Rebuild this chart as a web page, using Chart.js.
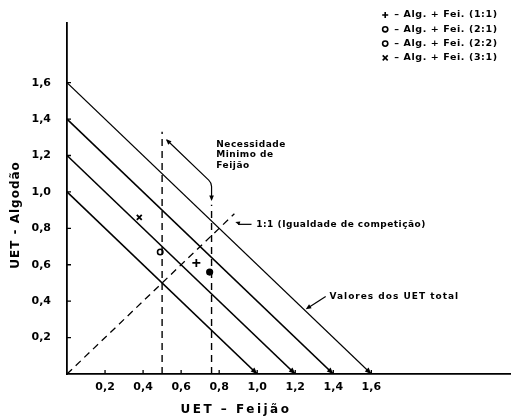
<!DOCTYPE html>
<html>
<head>
<meta charset="utf-8">
<script src="https://cdn.jsdelivr.net/npm/chart.js@4.4.1/dist/chart.umd.min.js"></script>
<style>
  html, body { margin: 0; padding: 0; background: #fff; }
  #wrap { width: 516px; height: 418px; }
</style>
</head>
<body>
<div id="wrap"><canvas id="chart"></canvas></div>
<script>
// UET total iso-lines (x + y = total)
const uetTotals = [1.0, 1.2, 1.4, 1.6];

// treatments (legend) and their observed UET values
const treatments = ['Alg. + Fei. (1:1)', 'Alg. + Fei. (2:1)', 'Alg. + Fei. (2:2)', 'Alg. + Fei. (3:1)'];
const symbols = ['cross', 'circleOpen', 'circleFilled', 'crossRot'];
const uetFeijao = [0.68, 0.49, 0.75, 0.38];
const uetAlgodao = [0.61, 0.67, 0.56, 0.86];

// dashed guides
const minFeijaoX = [0.5, 0.76];      // vertical guides
const minFeijaoTop = [1.33, 0.93];   // where each dashed guide stops
const equalLineEnd = 0.88;           // 1:1 line end

// tick labels
const xTicks = [0.2, 0.4, 0.6, 0.8, 1.0, 1.2, 1.4, 1.6];
const yTicks = [0.2, 0.4, 0.6, 0.8, 1.0, 1.2, 1.4, 1.6];
const fmt = v => v.toFixed(1).replace('.', ',');

const FONT = '"DejaVu Sans", "Liberation Sans", sans-serif';

const datasets = [];
uetTotals.forEach(c => datasets.push({
  data: [{x: 0, y: c}, {x: c, y: 0}], showLine: true, borderColor: '#000',
  borderWidth: c === 1.6 ? 1.2 : 1.6, pointRadius: 0, tension: 0
}));
minFeijaoX.forEach((v, i) => datasets.push({
  data: [{x: v, y: 0}, {x: v, y: minFeijaoTop[i]}], showLine: true, borderColor: '#000',
  borderWidth: 1.4, borderDash: [7, 5], pointRadius: 0
}));
datasets.push({
  data: [{x: 0, y: 0}, {x: equalLineEnd, y: equalLineEnd}], showLine: true, borderColor: '#000',
  borderWidth: 1.3, borderDash: [7, 5], pointRadius: 0
});
treatments.forEach((t, i) => {
  const s = symbols[i];
  datasets.push({
    label: t,
    data: [{x: uetFeijao[i], y: uetAlgodao[i]}],
    showLine: false,
    pointStyle: s === 'circleOpen' || s === 'circleFilled' ? 'circle' : s,
    pointRadius: s === 'cross' ? 4 : (s === 'crossRot' ? 3.5 : 2.7),
    pointBorderWidth: s === 'circleOpen' ? 1.6 : 1.8,
    pointBorderColor: '#000',
    pointBackgroundColor: s === 'circleOpen' ? '#fff' : '#000'
  });
});

function arrowHead(ctx, x1, y1, x2, y2, size) {
  const a = Math.atan2(y2 - y1, x2 - x1);
  ctx.beginPath();
  ctx.moveTo(x2, y2);
  ctx.lineTo(x2 - size * Math.cos(a - 0.4), y2 - size * Math.sin(a - 0.4));
  ctx.lineTo(x2 - size * Math.cos(a + 0.4), y2 - size * Math.sin(a + 0.4));
  ctx.closePath();
  ctx.fill();
}

const annot = {
  id: 'annot',
  afterDatasetsDraw(chart) {
    const {ctx, chartArea, scales: {x, y}} = chart;
    const px = v => x.getPixelForValue(v), py = v => y.getPixelForValue(v);
    ctx.save();
    ctx.strokeStyle = '#000'; ctx.fillStyle = '#000'; ctx.lineWidth = 1.3;

    // inner tick marks
    ctx.beginPath();
    xTicks.forEach(v => { ctx.moveTo(px(v), chartArea.bottom); ctx.lineTo(px(v), chartArea.bottom - 4); });
    yTicks.forEach(v => { ctx.moveTo(chartArea.left, py(v)); ctx.lineTo(chartArea.left + 4, py(v)); });
    ctx.stroke();

    // arrowheads where the UET lines meet the x axis
    uetTotals.forEach(c => arrowHead(ctx, px(c - 0.1), py(0.1), px(c), py(0), 7));

    // "Necessidade minima" bracket
    ctx.lineWidth = 1.2;
    ctx.beginPath();
    ctx.moveTo(px(0.525), py(1.285));
    ctx.lineTo(px(0.745), py(1.065));
    ctx.quadraticCurveTo(px(0.76), py(1.05), px(0.76), py(1.03));
    ctx.lineTo(px(0.76), py(0.96));
    ctx.stroke();
    arrowHead(ctx, px(0.6), py(1.21), px(0.52), py(1.29), 6);
    arrowHead(ctx, px(0.76), py(1.0), px(0.76), py(0.95), 6);

    // leaders
    ctx.beginPath();
    ctx.moveTo(px(0.97), py(0.822)); ctx.lineTo(px(0.9), py(0.822));
    ctx.stroke();
    arrowHead(ctx, px(0.92), py(0.824), px(0.885), py(0.835), 5);
    ctx.beginPath();
    ctx.moveTo(px(1.36), py(0.425)); ctx.lineTo(px(1.27), py(0.365));
    ctx.stroke();
    arrowHead(ctx, px(1.32), py(0.4), px(1.255), py(0.356), 6);

    // annotation texts
    ctx.font = 'bold 9px ' + FONT;
    ctx.textBaseline = 'middle'; ctx.textAlign = 'left';
    ctx.letterSpacing = '0.5px';
    ['Necessidade', 'Minimo de', 'Feijão'].forEach((t, i) => ctx.fillText(t, px(0.785), py(1.262 - i * 0.06)));
    ctx.fillText('1:1 (Igualdade de competição)', px(0.995), py(0.822));
    ctx.letterSpacing = '1px';
    ctx.fillText('Valores dos UET total', px(1.38), py(0.427));

    // legend (top right)
    const lx = chartArea.right - 125, ly = 15;
    ctx.font = 'bold 9.5px ' + FONT;
    treatments.forEach((t, i) => {
      const yy = ly + i * 14.3;
      const s = symbols[i];
      ctx.lineWidth = 1.6;
      if (s === 'cross') {
        ctx.beginPath(); ctx.moveTo(lx - 3, yy); ctx.lineTo(lx + 3, yy); ctx.moveTo(lx, yy - 3); ctx.lineTo(lx, yy + 3); ctx.stroke();
      } else if (s === 'crossRot') {
        ctx.beginPath(); ctx.moveTo(lx - 2.5, yy - 2.5); ctx.lineTo(lx + 2.5, yy + 2.5); ctx.moveTo(lx + 2.5, yy - 2.5); ctx.lineTo(lx - 2.5, yy + 2.5); ctx.stroke();
      } else {
        ctx.beginPath(); ctx.arc(lx, yy, 2.6, 0, Math.PI * 2); ctx.stroke();
      }
      ctx.letterSpacing = '0.6px';
      ctx.fillText('\u2013 ' + t, lx + 9, yy);
    });

    // axis titles
    ctx.font = 'bold 12px ' + FONT;
    ctx.textAlign = 'center';
    ctx.letterSpacing = '2.5px';
    ctx.fillText('UET \u2013 Feijão', 236, 410);
    ctx.save();
    ctx.translate(16, 215); ctx.rotate(-Math.PI / 2);
    ctx.letterSpacing = '1px';
    ctx.fillText('UET - Algodão', 0, 0);
    ctx.restore();
    ctx.restore();
  }
};

new Chart(document.getElementById('chart'), {
  type: 'scatter',
  data: {datasets},
  plugins: [annot],
  options: {
    responsive: true, maintainAspectRatio: false, animation: false,
    layout: {padding: {top: 20, right: 1, left: 0, bottom: 0}},
    plugins: {legend: {display: false}, tooltip: {enabled: false}},
    scales: {
      x: {
        type: 'linear', min: 0, max: 2.33,
        afterBuildTicks: a => { a.ticks = xTicks.map(v => ({value: v})); },
        afterFit: s => { s.height = 44; },
        grid: {display: true, drawOnChartArea: false, drawTicks: false},
        border: {display: true, color: '#000', width: 1.8},
        ticks: {color: '#000', padding: 7, maxRotation: 0, autoSkip: false,
          font: {family: FONT, size: 11, weight: 'bold'}, callback: v => fmt(v)}
      },
      y: {
        type: 'linear', min: 0, max: 1.93,
        afterBuildTicks: a => { a.ticks = yTicks.map(v => ({value: v})); },
        afterFit: s => { s.width = 67; },
        grid: {display: true, drawOnChartArea: false, drawTicks: false},
        border: {display: true, color: '#000', width: 1.8},
        ticks: {color: '#000', padding: 16, autoSkip: false,
          font: {family: FONT, size: 11, weight: 'bold'}, callback: v => fmt(v)}
      }
    }
  }
});
</script>
</body>
</html>
